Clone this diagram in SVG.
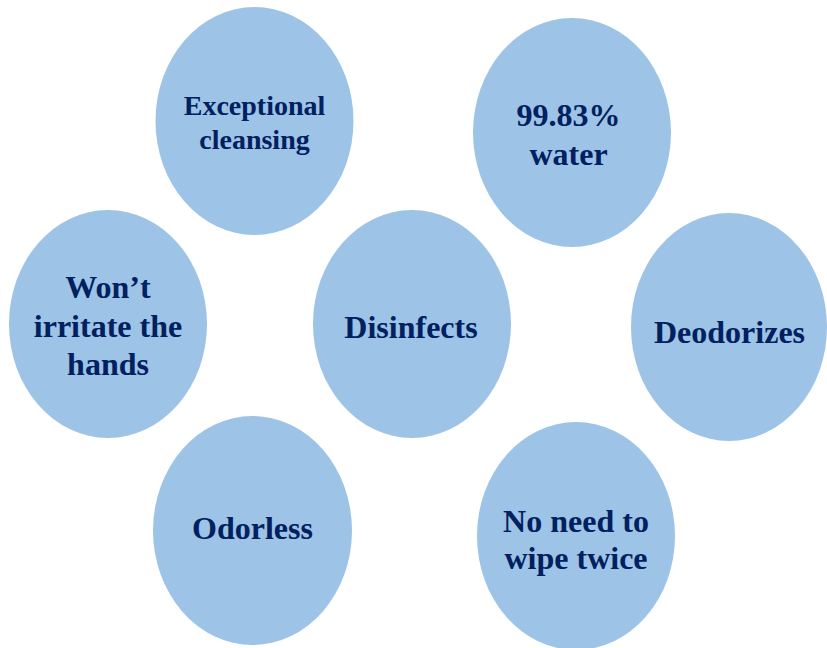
<svg xmlns="http://www.w3.org/2000/svg" width="827" height="648" viewBox="0 0 827 648">
<style>
.n{fill:#9DC3E6;}
.t{font-family:"Liberation Serif","Times New Roman",serif;font-weight:bold;fill:#002060;text-anchor:middle;font-size:32px;}
.s{font-size:28px;}
</style>
<rect width="827" height="648" fill="#FFFFFF"/>
<g id="connectors"></g>
<g id="node-exceptional"><ellipse class="n" cx="254.5" cy="121" rx="99" ry="114"/><text class="t s" x="254.5" y="115">Exceptional</text><text class="t s" x="254.5" y="149">cleansing</text></g>
<g id="node-water"><ellipse class="n" cx="572" cy="132.5" rx="99" ry="114.5"/><text class="t" x="568.5" y="126">99.83%</text><text class="t" x="568.5" y="165">water</text></g>
<g id="node-irritate"><ellipse class="n" cx="108" cy="324" rx="99" ry="114"/><text class="t" x="108" y="298">Won’t</text><text class="t" x="108" y="337">irritate the</text><text class="t" x="108" y="375">hands</text></g>
<g id="node-disinfects"><ellipse class="n" cx="412" cy="324" rx="99" ry="114"/><text class="t" x="411" y="338">Disinfects</text></g>
<g id="node-deodorizes"><ellipse class="n" cx="729" cy="327" rx="98" ry="114"/><text class="t" x="729.5" y="343">Deodorizes</text></g>
<g id="node-odorless"><ellipse class="n" cx="252.5" cy="530.5" rx="99.5" ry="114.5"/><text class="t" x="252.5" y="539">Odorless</text></g>
<g id="node-wipe"><ellipse class="n" cx="576" cy="536" rx="99" ry="114"/><text class="t" x="576" y="532">No need to</text><text class="t" x="576" y="569">wipe twice</text></g>
</svg>
